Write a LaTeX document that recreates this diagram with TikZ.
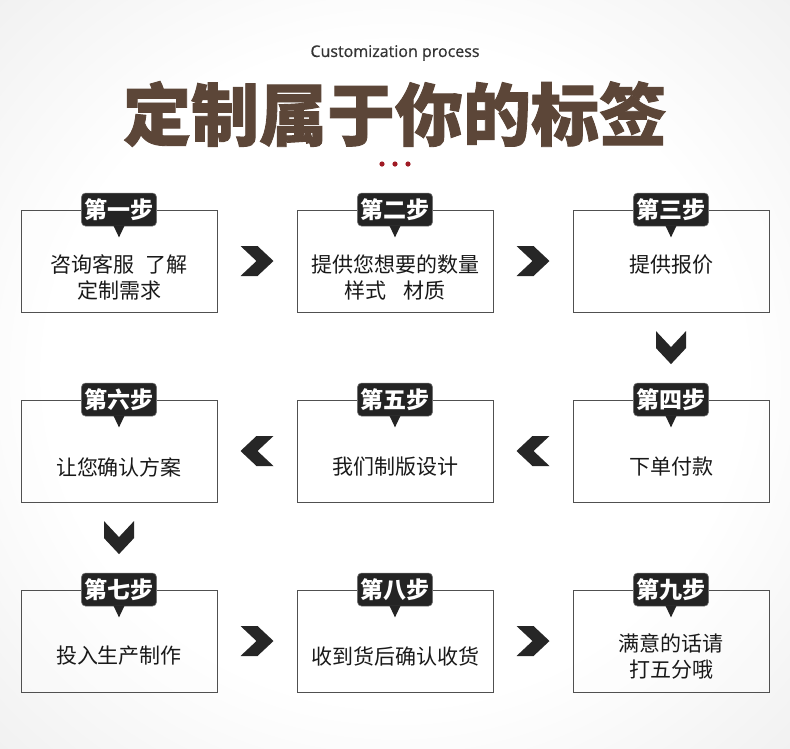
\documentclass[tikz,border=0pt]{standalone}
\usepackage{fontspec}
\setmainfont{Noto Sans CJK SC}
\newfontfamily\titlefont[FakeBold=1.3]{Noto Sans CJK SC}
\newfontfamily\latinfont[FakeBold=0.8]{Open Sans}
\usepackage{xcolor}
\usetikzlibrary{calc,positioning}
\definecolor{titlebrown}{RGB}{92,70,56}
\definecolor{dotred}{RGB}{160,26,36}
\definecolor{tabblack}{RGB}{36,36,36}
\definecolor{boxgray}{RGB}{80,80,80}
\definecolor{bggray}{RGB}{226,226,226}
\pgfdeclareradialshading{bgshade}{\pgfpoint{0bp}{0bp}}{color(0bp)=(white); color(22bp)=(white); color(50bp)=(bggray); color(72bp)=(bggray)}
\tikzstyle{stepbox}=[rectangle, draw=boxgray, line width=0.9pt, fill=white, fill opacity=0.35,
  minimum width=196pt, minimum height=102pt, inner sep=0pt]
\tikzstyle{tab}=[rectangle, rounded corners=4pt, fill=tabblack, draw=black!55, line width=0.6pt,
  text=white, font=\fontsize{23}{23}\selectfont\bfseries, minimum width=75pt, minimum height=33pt, inner sep=0pt]
\tikzstyle{chev}=[fill=black!85]
\newcommand{\stepchev}[2]{\fill[chev,shift={#1},rotate=#2] (-16.5,15) -- (0.5,15) -- (16.5,0) -- (0.5,-15) -- (-16.5,-15) -- (-0.5,0) -- cycle;}

\begin{document}
\begin{tikzpicture}[x=1pt,y=1pt,
  desc/.style={align=center,inner sep=0pt,text=black!90,font=\fontsize{21}{26}\selectfont},
  every node/.style={transform shape}]

% background
\useasboundingbox (0,0) rectangle (790,-748);
\shade[shading=bgshade] (0,0) rectangle (790,-748);

% heading
\node[font=\latinfont\fontsize{16}{16}\selectfont,text=black!80] (sub) at (395,-53) {Customization process};
\node[font=\titlefont\bfseries\fontsize{68}{68}\selectfont,text=titlebrown] (title) at (395,-114) {定制属于你的标签};
\foreach \d in {382,395,408}
  \fill[dotred] (\d,-164) circle (2.6pt);

% steps
\foreach \n/\x/\y/\lab/\ty/\txt in {
  1/119/261/第一步/277.5/{咨询客服\hspace{0.5em}了解\\定制需求},
  2/395/261/第二步/277.5/{提供您想要的数量\\样式\hspace{0.8em}材质},
  3/671/261/第三步/265/{提供报价},
  4/671/451/第四步/467/{下单付款},
  5/395/451/第五步/467/{我们制版设计},
  6/119/451/第六步/467/{让您确认方案},
  7/119/641/第七步/656/{投入生产制作},
  8/395/641/第八步/656/{收到货后确认收货},
  9/671/641/第九步/656.5/{满意的话请\\打五分哦}} {
  \node[stepbox] (s\n) at (\x,-\y) {};
  \node[desc] (t\n) at (\x,-\ty) {\txt};
  \node[tab] (l\n) at (s\n.north) {\lab};
  \fill[tabblack] ($(l\n.south)+(-5.5,0.6)$) -- ($(l\n.south)+(0,-11)$) -- ($(l\n.south)+(5.5,0.6)$) -- cycle;
}

% chevrons
\stepchev{($(s1.east)!0.5!(s2.west)$)}{0}
\stepchev{($(s2.east)!0.5!(s3.west)$)}{0}
\stepchev{($(s3.south)!0.5!(l4.north)$)}{-90}
\stepchev{($(s4.west)!0.5!(s5.east)$)}{180}
\stepchev{($(s5.west)!0.5!(s6.east)$)}{180}
\stepchev{($(s6.south)!0.5!(l7.north)$)}{-90}
\stepchev{($(s7.east)!0.5!(s8.west)$)}{0}
\stepchev{($(s8.east)!0.5!(s9.west)$)}{0}
\end{tikzpicture}
\end{document}
